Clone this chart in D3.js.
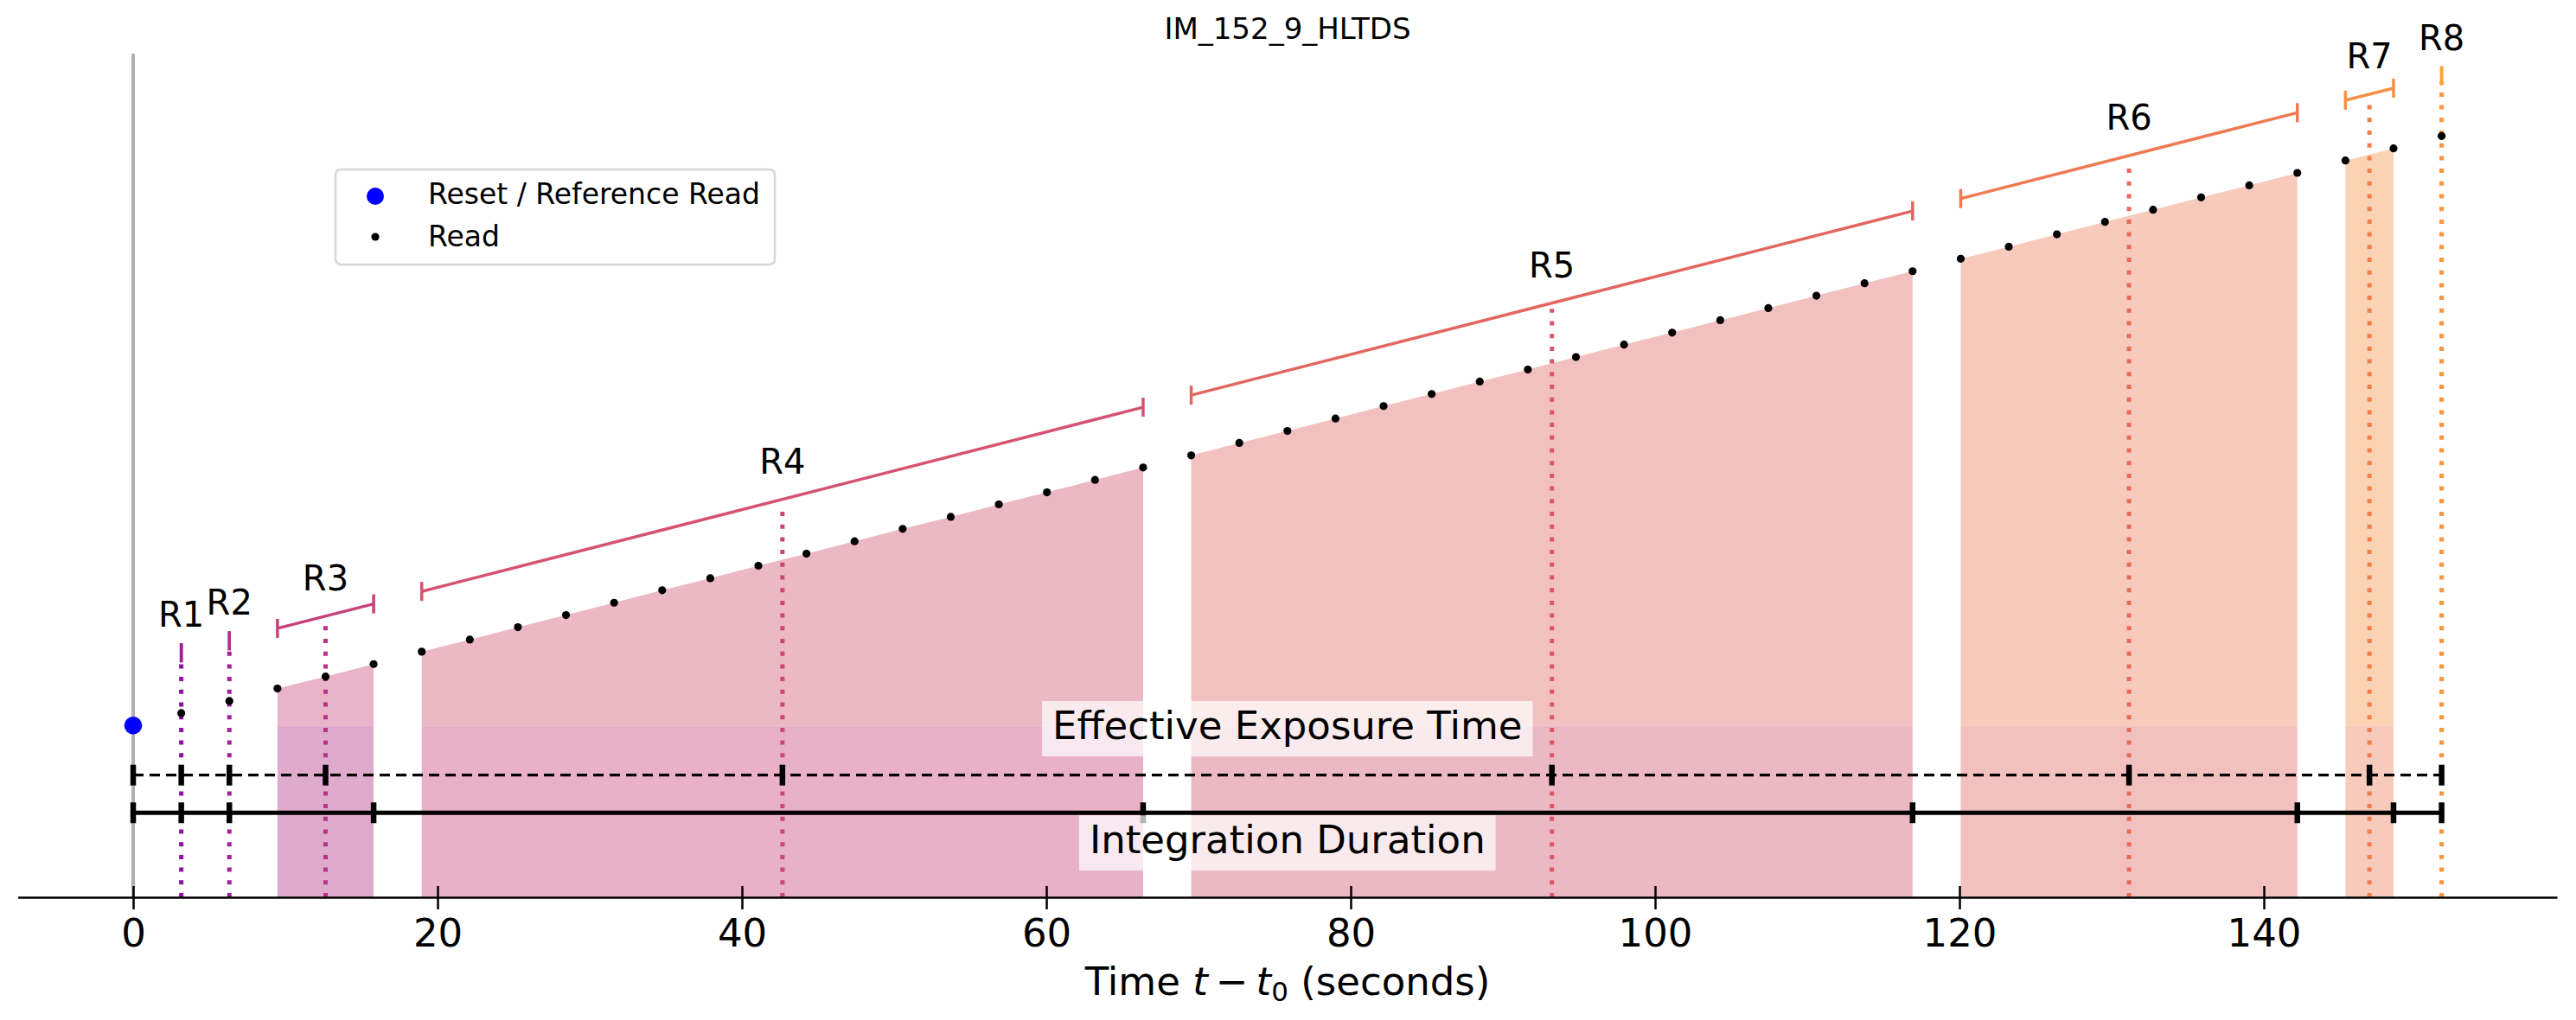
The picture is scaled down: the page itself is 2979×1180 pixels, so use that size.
<!DOCTYPE html>
<html>
<head>
<meta charset="utf-8">
<script src="https://cdn.jsdelivr.net/npm/d3@7"></script>
<style>
	body { margin: 0; background: #fff; }
	text { font-family: "DejaVu Sans", sans-serif; fill: #000; }
</style>
</head>
<body>
<div id="chart"></div>
<script>
// values
const chartTitle = "IM_152_9_HLTDS"

// read times (s), index 0 is the reset / reference read
const readTimes = [0, 3.16, 6.32, 9.48, 12.64, 15.8, 18.96, 22.12, 25.28, 28.44, 31.6, 34.76, 37.92,
	41.08, 44.24, 47.4, 50.56, 53.72, 56.88, 60.04, 63.2, 66.36, 69.52, 72.68, 75.84, 79, 82.16,
	85.32, 88.48, 91.64, 94.8, 97.96, 101.12, 104.28, 107.44, 110.6, 113.76, 116.92, 120.08,
	123.24, 126.4, 129.56, 132.72, 135.88, 139.04, 142.2, 145.36, 148.52, 151.68]

// accumulated signal of each read (arbitrary units)
const readCounts = [0, 3.2, 6.3, 9.5, 12.6, 15.8, 19, 22.1, 25.3, 28.4, 31.6, 34.8, 37.9,
	41.1, 44.2, 47.4, 50.6, 53.7, 56.9, 60, 63.2, 66.4, 69.5, 72.7, 75.8, 79, 82.2,
	85.3, 88.5, 91.6, 94.8, 98, 101.1, 104.3, 107.4, 110.6, 113.8, 116.9, 120.1,
	123.2, 126.4, 129.6, 132.7, 135.9, 139, 142.2, 145.4, 148.5, 151.7]

// resultants: first and last read index of each group
const resultantNames = ["R1", "R2", "R3", "R4", "R5", "R6", "R7", "R8"]
const resultantFirstRead = [1, 2, 3, 6, 22, 38, 46, 48]
const resultantLastRead = [1, 2, 5, 21, 37, 45, 47, 48]

const xTicks = [0, 20, 40, 60, 80, 100, 120, 140]
const legendLabels = ["Reset / Reference Read", "Read"]
const boxLabels = ["Effective Exposure Time", "Integration Duration"]

// styles
const fillTop = [null, null, "#e9b4c8", "#ecb8c4", "#f2c1bf", "#f7cabb", "#fad3b5", null]
const fillBottom = [null, null, "#e0aacc", "#e8b1c8", "#ecb8c3", "#f2c1bf", "#f7cabb", null]
const dotColors = resultantNames.map((d, i) => d3.interpolatePlasma(0.3 + 0.45 * i / 7))
const bracketColors = resultantNames.map((d, i) => d3.interpolatePlasma(0.35 + 0.45 * i / 7))

const svgWidth = 2979
const svgHeight = 1180

let svg = d3
	.select("#chart")
	.append("svg")
	.attr("width", svgWidth)
	.attr("height", svgHeight)

let x = d3.scaleLinear().domain([-7.58, 159.26]).range([20.6, 2957])
let y = d3.scaleLinear().domain([-44.2, 172.9]).range([1038, 62])

let resetCount = readCounts[0]
let lastTime = readTimes[readTimes.length - 1]

// group the reads into resultants
let resultants = resultantNames.map((name, i) => {
	let idx = d3.range(resultantFirstRead[i], resultantLastRead[i] + 1)
	let pts = idx.map(k => ({ t: readTimes[k], c: readCounts[k] }))
	return {
		name: name,
		i: i,
		pts: pts,
		tMean: d3.mean(pts, d => d.t),
		cMean: d3.mean(pts, d => d.c),
		first: pts[0],
		last: pts[pts.length - 1]
	}
})

// reference line at t = 0
svg.append("line")
	.attr("x1", x(0)).attr("x2", x(0))
	.attr("y1", y.range()[1]).attr("y2", y.range()[0])
	.attr("stroke", "#b0b0b0")
	.attr("stroke-width", 4)

// filled areas under each multi-read resultant
let area = d3.area()
	.x(d => x(d.t))
	.y0(y(resetCount))
	.y1(d => y(d.c))

let filled = resultants.filter(r => fillTop[r.i])

svg.selectAll(".fillLow")
	.data(filled)
	.enter()
	.append("rect")
	.attr("x", r => x(r.first.t))
	.attr("width", r => x(r.last.t) - x(r.first.t))
	.attr("y", y(resetCount))
	.attr("height", y.range()[0] - y(resetCount))
	.attr("fill", r => fillBottom[r.i])

svg.selectAll(".fillHigh")
	.data(filled)
	.enter()
	.append("path")
	.attr("d", r => area(r.pts))
	.attr("fill", r => fillTop[r.i])

// dotted lines at the mean time of each resultant
svg.selectAll(".meanLine")
	.data(resultants)
	.enter()
	.append("line")
	.attr("x1", r => x(r.tMean)).attr("x2", r => x(r.tMean))
	.attr("y1", y.range()[0])
	.attr("y2", r => y(r.cMean + 14))
	.attr("stroke", r => dotColors[r.i])
	.attr("stroke-width", 5)
	.attr("stroke-dasharray", "5 9.7")

// brackets above each resultant
const bracketOffset = 15.5
let brackets = svg.selectAll(".bracket")
	.data(resultants)
	.enter()
	.append("g")
	.attr("stroke", r => bracketColors[r.i])
	.attr("stroke-width", 3.5)

brackets.append("line")
	.attr("x1", r => x(r.first.t)).attr("y1", r => y(r.first.c + bracketOffset))
	.attr("x2", r => x(r.last.t)).attr("y2", r => y(r.last.c + bracketOffset))

brackets.append("line")
	.attr("x1", r => x(r.first.t)).attr("x2", r => x(r.first.t))
	.attr("y1", r => y(r.first.c + bracketOffset) - 11)
	.attr("y2", r => y(r.first.c + bracketOffset) + 11)

brackets.append("line")
	.attr("x1", r => x(r.last.t)).attr("x2", r => x(r.last.t))
	.attr("y1", r => y(r.last.c + bracketOffset) - 11)
	.attr("y2", r => y(r.last.c + bracketOffset) + 11)

svg.selectAll(".rLabel")
	.data(resultants)
	.enter()
	.append("text")
	.attr("x", r => x(r.tMean))
	.attr("y", r => y(r.cMean + bracketOffset) - 30)
	.attr("text-anchor", "middle")
	.style("font-size", "40px")
	.text(r => r.name)

// effective exposure (dashed) and integration duration (solid) lines
function durationLine(level, ticks, dashed, width) {
	let g = svg.append("g")
	g.append("line")
		.attr("x1", x(0)).attr("x2", x(lastTime))
		.attr("y1", y(level)).attr("y2", y(level))
		.attr("stroke", "#000")
		.attr("stroke-width", width)
		.attr("stroke-dasharray", dashed ? "12 7" : null)
	g.selectAll("line.mark")
		.data(ticks)
		.enter()
		.append("line")
		.attr("class", "mark")
		.attr("x1", d => x(d)).attr("x2", d => x(d))
		.attr("y1", y(level) - 12).attr("y2", y(level) + 12)
		.attr("stroke", "#000")
		.attr("stroke-width", 6.5)
}

durationLine(-12.77, [0].concat(resultants.map(r => r.tMean)), true, 3.3)
durationLine(-22.46, [0].concat(resultants.map(r => r.last.t)), false, 4.8)

// reads and the reset read
svg.selectAll(".read")
	.data(readTimes.slice(1))
	.enter()
	.append("circle")
	.attr("cx", d => x(d))
	.attr("cy", (d, i) => y(readCounts[i + 1]))
	.attr("r", 4.6)
	.attr("fill", "#000")

svg.append("circle")
	.attr("cx", x(readTimes[0]))
	.attr("cy", y(resetCount))
	.attr("r", 10.3)
	.attr("fill", "#0000ff")

// labels with a half transparent white box
function boxLabel(text, baseLevel) {
	let g = svg.append("g")
	let cx = x((readTimes[0] + lastTime) / 2)
	let by = y(baseLevel)
	let rect = g.append("rect")
	let label = g.append("text")
		.attr("x", cx)
		.attr("y", by)
		.attr("text-anchor", "middle")
		.style("font-size", "45px")
		.text(text)
	let w = label.node().getComputedTextLength()
	rect.attr("x", cx - w / 2 - 12)
		.attr("width", w + 24)
		.attr("y", by - 44)
		.attr("height", 64)
		.attr("fill", "#fff")
		.attr("fill-opacity", 0.7)
}

boxLabel(boxLabels[0], -3.5)
boxLabel(boxLabels[1], -32.9)

// x axis
let xAxis = svg.append("g")
	.attr("transform", `translate(0, ${y.range()[0]})`)
	.call(d3.axisBottom(x).tickValues(xTicks).tickSizeOuter(0).tickFormat(d3.format("d")))

xAxis.select(".domain").attr("stroke-width", 2.5)
xAxis.selectAll(".tick line")
	.attr("y1", -13)
	.attr("y2", 14)
	.attr("stroke-width", 2.5)
xAxis.selectAll(".tick text")
	.attr("y", 57)
	.attr("dy", 0)
	.attr("fill", "#000")
	.style("font-size", "45px")
	.style("font-family", "DejaVu Sans")

// axis label with math-style t
let xLabel = svg.append("text")
	.attr("x", 1489)
	.attr("y", 1150.7)
	.attr("text-anchor", "middle")
	.style("font-size", "45px")
xLabel.append("tspan").text("Time ")
xLabel.append("tspan").style("font-style", "italic").text("t")
xLabel.append("tspan").text("\u2009\u2212\u2009")
xLabel.append("tspan").style("font-style", "italic").text("t")
xLabel.append("tspan").attr("dy", 7).style("font-size", "31px").text("0")
xLabel.append("tspan").attr("dy", -7).text(" (seconds)")

// title
svg.append("text")
	.attr("x", 1489)
	.attr("y", 45)
	.attr("text-anchor", "middle")
	.style("font-size", "34px")
	.text(chartTitle)

// legend
let legend = svg.append("g")
legend.append("rect")
	.attr("x", 388).attr("y", 196)
	.attr("width", 508).attr("height", 110)
	.attr("rx", 6)
	.attr("fill", "#fff")
	.attr("fill-opacity", 0.8)
	.attr("stroke", "#d6d6d6")
	.attr("stroke-width", 2.5)

legend.selectAll(".legendMark")
	.data(legendLabels)
	.enter()
	.append("circle")
	.attr("cx", 434)
	.attr("cy", (d, i) => 227 + i * 47)
	.attr("r", (d, i) => i === 0 ? 10 : 4.6)
	.attr("fill", (d, i) => i === 0 ? "#0000ff" : "#000")

legend.selectAll(".legendText")
	.data(legendLabels)
	.enter()
	.append("text")
	.attr("x", 495)
	.attr("y", (d, i) => 236 + i * 49)
	.style("font-size", "33px")
	.text(d => d)
</script>
</body>
</html>
